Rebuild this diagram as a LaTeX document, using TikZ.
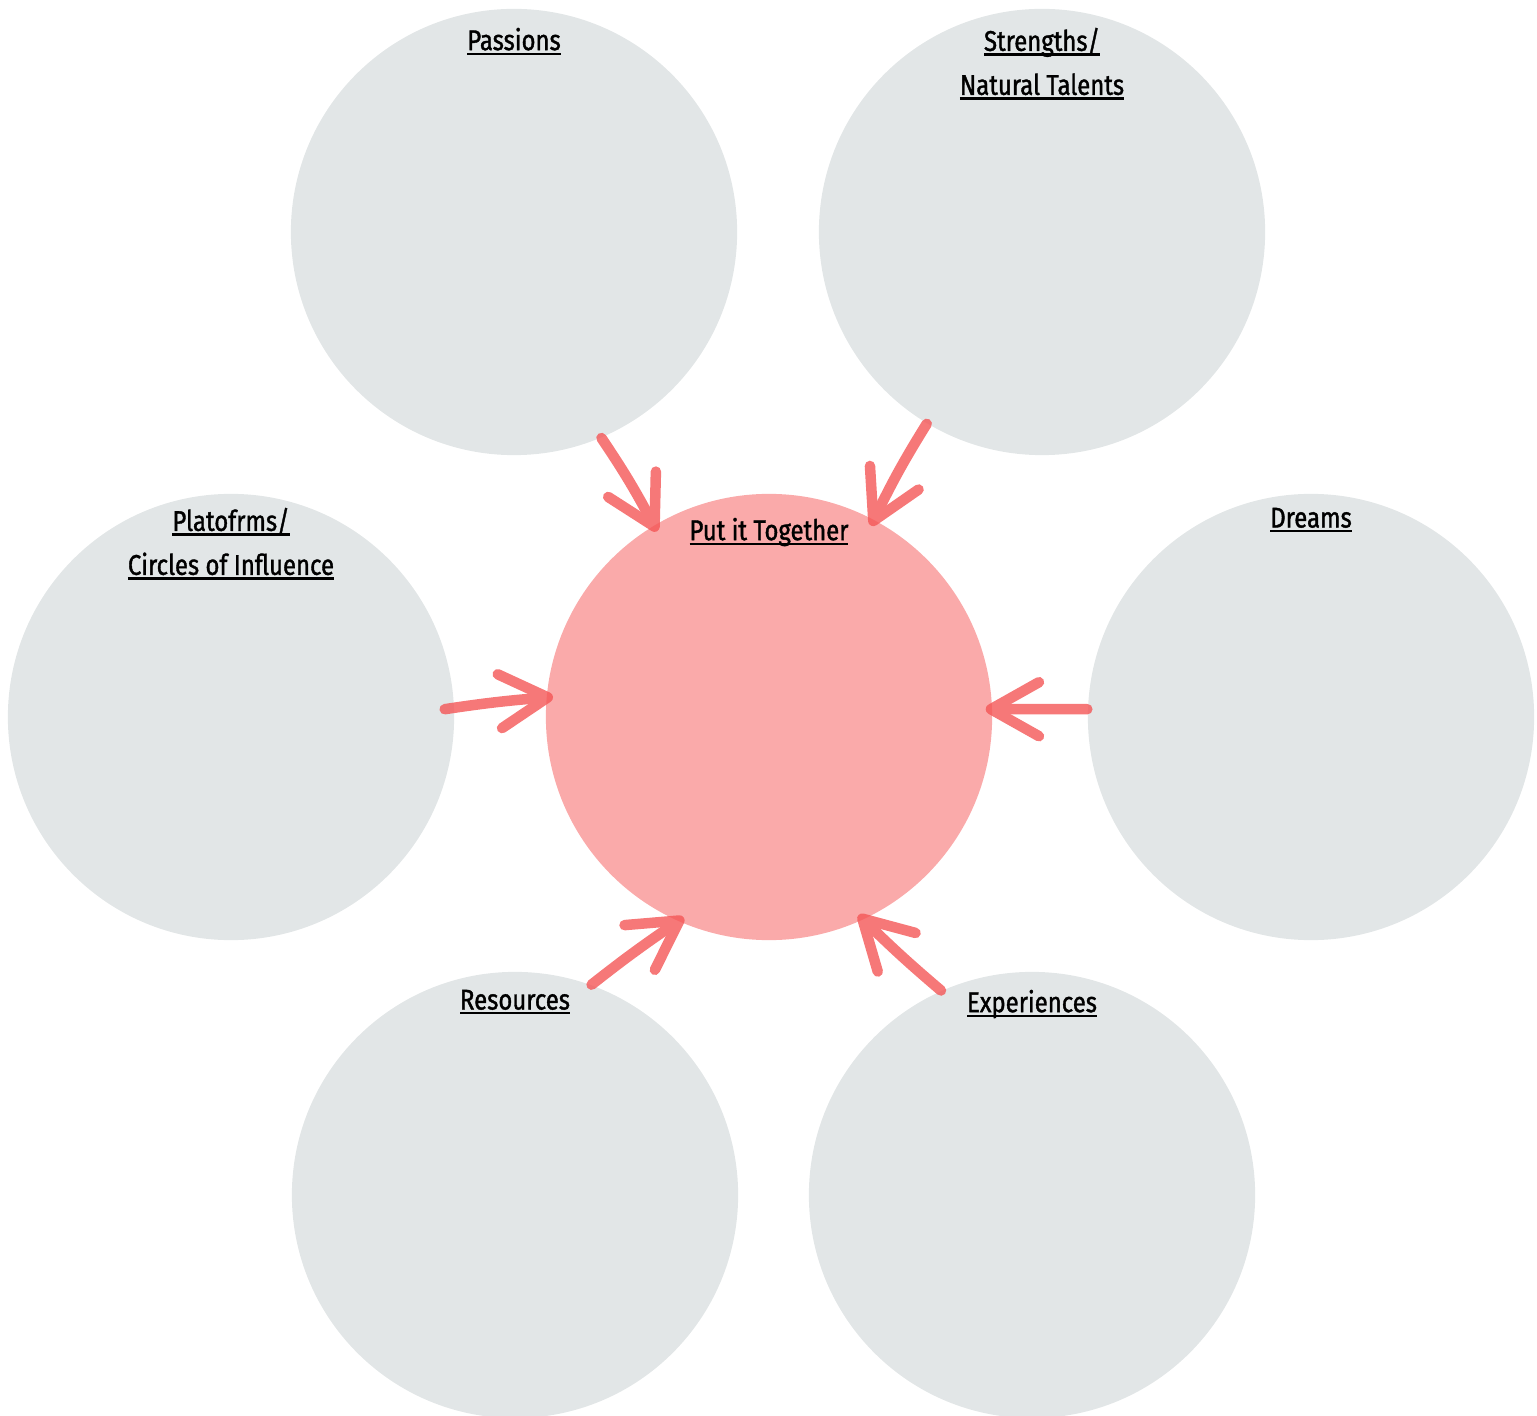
\documentclass[tikz,border=0pt]{standalone}
\usepackage{fontspec}
\setmainfont{Fira Sans}[FakeStretch=0.84, FakeBold=1.3]
\usetikzlibrary{arrows.meta,positioning}
\definecolor{idgrey}{HTML}{E2E6E7}
\definecolor{idpink}{HTML}{FAAAAA}
\definecolor{idred}{HTML}{F45656}
\newcommand{\undl}[1]{\setbox0\hbox{#1}\rlap{\rule[-0.17em]{\wd0}{0.085em}}\box0}

\begin{document}
\begin{tikzpicture}[
    x=0.01cm, y=-0.01cm,
    bubble/.style={circle, fill=idgrey, minimum size=4.46cm, inner sep=0pt},
    hub/.style={bubble, fill=idpink},
    ttl/.style={align=center, inner sep=0pt, font=\fontsize{8.1}{12.5}\selectfont},
    arr/.style={-{Straight Barb[length=4.8mm, width=5.4mm, round]}, line width=0.105cm, draw=idred, line cap=round, shorten >=-0.07cm}
]
\useasboundingbox (0,0) rectangle (1537,1416);
\node[hub] (together) at (769,717) {};
\node[bubble] (passions) at (514,232) {};
\node[bubble] (strengths) at (1042,232) {};
\node[bubble] (platforms) at (231,717) {};
\node[bubble] (dreams) at (1311,717) {};
\node[bubble] (resources) at (515,1195) {};
\node[bubble] (experiences) at (1032,1195) {};
% titles
\node[ttl, below=0.19cm of passions.north] (t-passions) {\undl{Passions}};
\node[ttl, below=0.19cm of strengths.north] (t-strengths) {\undl{Strengths/}\\\undl{Natural Talents}};
\node[ttl, below=0.14cm of platforms.north] (t-platforms) {\undl{Platofrms/}\\\undl{Circles of Influence}};
\node[ttl, below=0.24cm of together.north] (t-together) {\undl{Put it Together}};
\node[ttl, below=0.14cm of dreams.north] (t-dreams) {\undl{Dreams}};
\node[ttl, below=0.18cm of resources.north] (t-resources) {\undl{Resources}};
\node[ttl, below=0.18cm of experiences.north] (t-experiences) {\undl{Experiences}};
% arrows into the hub
\begin{scope}[transparency group, opacity=0.8]
\draw[arr] (passions.-67) to[bend left=3] (together.121);
\draw[arr] (strengths.-121) to[bend right=3] (together.62);
\draw[arr] ([xshift=-0.1cm]platforms.2) to[bend left=2] (together.175);
\draw[arr] (dreams.178) to (together.2);
\draw[arr] (resources.70) to[bend left=2] (together.-114);
\draw[arr] (experiences.114) to[bend left=2] (together.-65);
\end{scope}
\end{tikzpicture}
\end{document}
